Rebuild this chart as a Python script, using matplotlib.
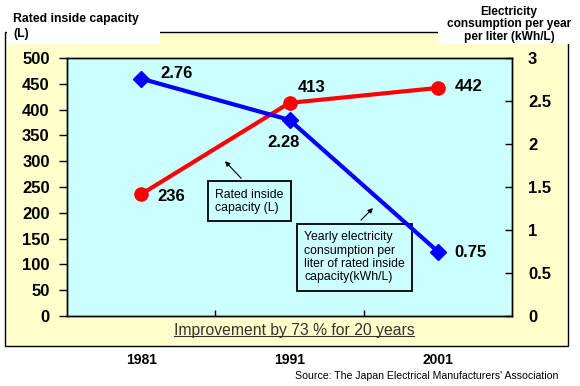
import matplotlib
matplotlib.use("Agg")
import matplotlib.pyplot as plt
from matplotlib.patches import Rectangle
from matplotlib.lines import Line2D

years = ["1981", "1991", "2001"]
capacity = [236, 413, 442]
consumption = [2.76, 2.28, 0.75]
cap_labels = ["236", "413", "442"]
cons_labels = ["2.76", "2.28", "0.75"]

plt.rcParams['font.family'] = ['Liberation Sans', 'DejaVu Sans']

W, H = 580, 386
fig = plt.figure(figsize=(W / 100, H / 100), dpi=100)
fig.patch.set_facecolor("white")

def fx(px):
    return px / W

def fy(py):
    return 1 - py / H

# outer yellow panel and the white caption boxes over it
fig.patches.append(Rectangle((fx(5), fy(346)), fx(568) - fx(5), fy(32) - fy(346),
                             transform=fig.transFigure, facecolor="#FFFFCC",
                             edgecolor="black", lw=1, zorder=-2))
fig.patches.append(Rectangle((fx(7), fy(44)), fx(160) - fx(7), fy(0) - fy(44),
                             transform=fig.transFigure, facecolor="white",
                             edgecolor="none", zorder=-1))
fig.patches.append(Rectangle((fx(438), fy(44)), fx(580) - fx(438), fy(0) - fy(44),
                             transform=fig.transFigure, facecolor="white",
                             edgecolor="none", zorder=-1))

ax = fig.add_axes([fx(67), fy(316), fx(512) - fx(67), fy(58) - fy(316)])
ax.set_facecolor("#CCFFFF")
ax2 = ax.twinx()

x = list(range(len(years)))
ax.plot(x, capacity, color="#FF0000", lw=3, marker="o", ms=9.5, zorder=3)
ax2.plot(x, consumption, color="#0000FF", lw=3, marker="D", ms=8.5, zorder=3)

ax.set_xlim(-0.5, 2.5)
ax.set_ylim(0, 500)
ax2.set_ylim(0, 3)

# category boundaries as inward ticks, labels in the middle
ax.set_xticks([0.5, 1.5])
ax.set_xticklabels([])
ax.set_xticks(x, minor=True)
ax.set_xticklabels(years, minor=True, fontsize=10, fontweight="bold")
ax.tick_params(axis="x", which="major", direction="in", length=4, width=1)
ax.tick_params(axis="x", which="minor", length=0, pad=26.5)

ax.set_yticks(range(0, 501, 50))
ax.tick_params(axis="y", direction="out", length=6, width=1, pad=6.5, labelsize=12)
for t in ax.get_yticklabels():
    t.set_fontweight("bold")

ax2.set_yticks([0, 0.5, 1, 1.5, 2, 2.5, 3])
ax2.set_yticklabels(["0", "0.5", "1", "1.5", "2", "2.5", "3"])
ax2.tick_params(axis="y", direction="in", length=5, width=1, pad=11.5, labelsize=12)
for t in ax2.get_yticklabels():
    t.set_fontweight("bold")

for a in (ax, ax2):
    for s in a.spines.values():
        s.set_linewidth(1)
        s.set_color("black")

# value labels
lab_kw = dict(textcoords="offset pixels", fontsize=12, fontweight="bold",
              va="center", ha="left", zorder=5)
cap_off = [(16, -2), (8, 15), (17, 1)]
for i, (v, s) in enumerate(zip(capacity, cap_labels)):
    ax.annotate(s, (x[i], v), xytext=cap_off[i], **lab_kw)
cons_off = [(19, 5), (-22, -23), (17, -1)]
for i, (v, s) in enumerate(zip(consumption, cons_labels)):
    ax2.annotate(s, (x[i], v), xytext=cons_off[i], **lab_kw)

# callout boxes
box_kw = dict(boxstyle="square,pad=0.6", facecolor="#CCFFFF", edgecolor="black", lw=1.3)
ax.text(0.50, 247, "Rated inside\ncapacity (L)", fontsize=8.8, va="top", ha="left",
        bbox=box_kw, linespacing=1.15, zorder=4)
ax.text(1.10, 164, "Yearly electricity\nconsumption per\nliter of rated inside\ncapacity(kWh/L)",
        fontsize=8.8, va="top", ha="left", bbox=box_kw, linespacing=1.15, zorder=4)
arr = dict(arrowstyle="-|>", color="black", lw=0.8, mutation_scale=7)
ax.annotate("", xy=(0.552, 304), xytext=(0.687, 263), arrowprops=arr)
ax.annotate("", xy=(1.576, 213), xytext=(1.469, 182), arrowprops=arr)

# titles
fig.text(fx(13), fy(13), "Rated inside capacity\n(L)", fontsize=8.8, fontweight="bold",
         ha="left", va="top", linespacing=1.3)
fig.text(fx(509), fy(6), "Electricity\nconsumption per year\nper liter (kWh/L)", fontsize=8.6,
         fontweight="bold", ha="center", va="top", linespacing=1.05)

note = fig.text(fx(294), fy(330), "Improvement by 73 % for 20 years", fontsize=11.3,
                color="#333333", ha="center", va="center")
fig.text(fx(558), fy(376), "Source: The Japan Electrical Manufacturers' Association",
         fontsize=7.6, ha="right", va="center")

# underline the note
fig.canvas.draw()
bb = note.get_window_extent().transformed(fig.transFigure.inverted())
fig.add_artist(Line2D([bb.x0, bb.x1], [bb.y0 + 0.004, bb.y0 + 0.004],
                      transform=fig.transFigure, color="#333333", lw=0.8))

fig.savefig("out.png", dpi=100)
